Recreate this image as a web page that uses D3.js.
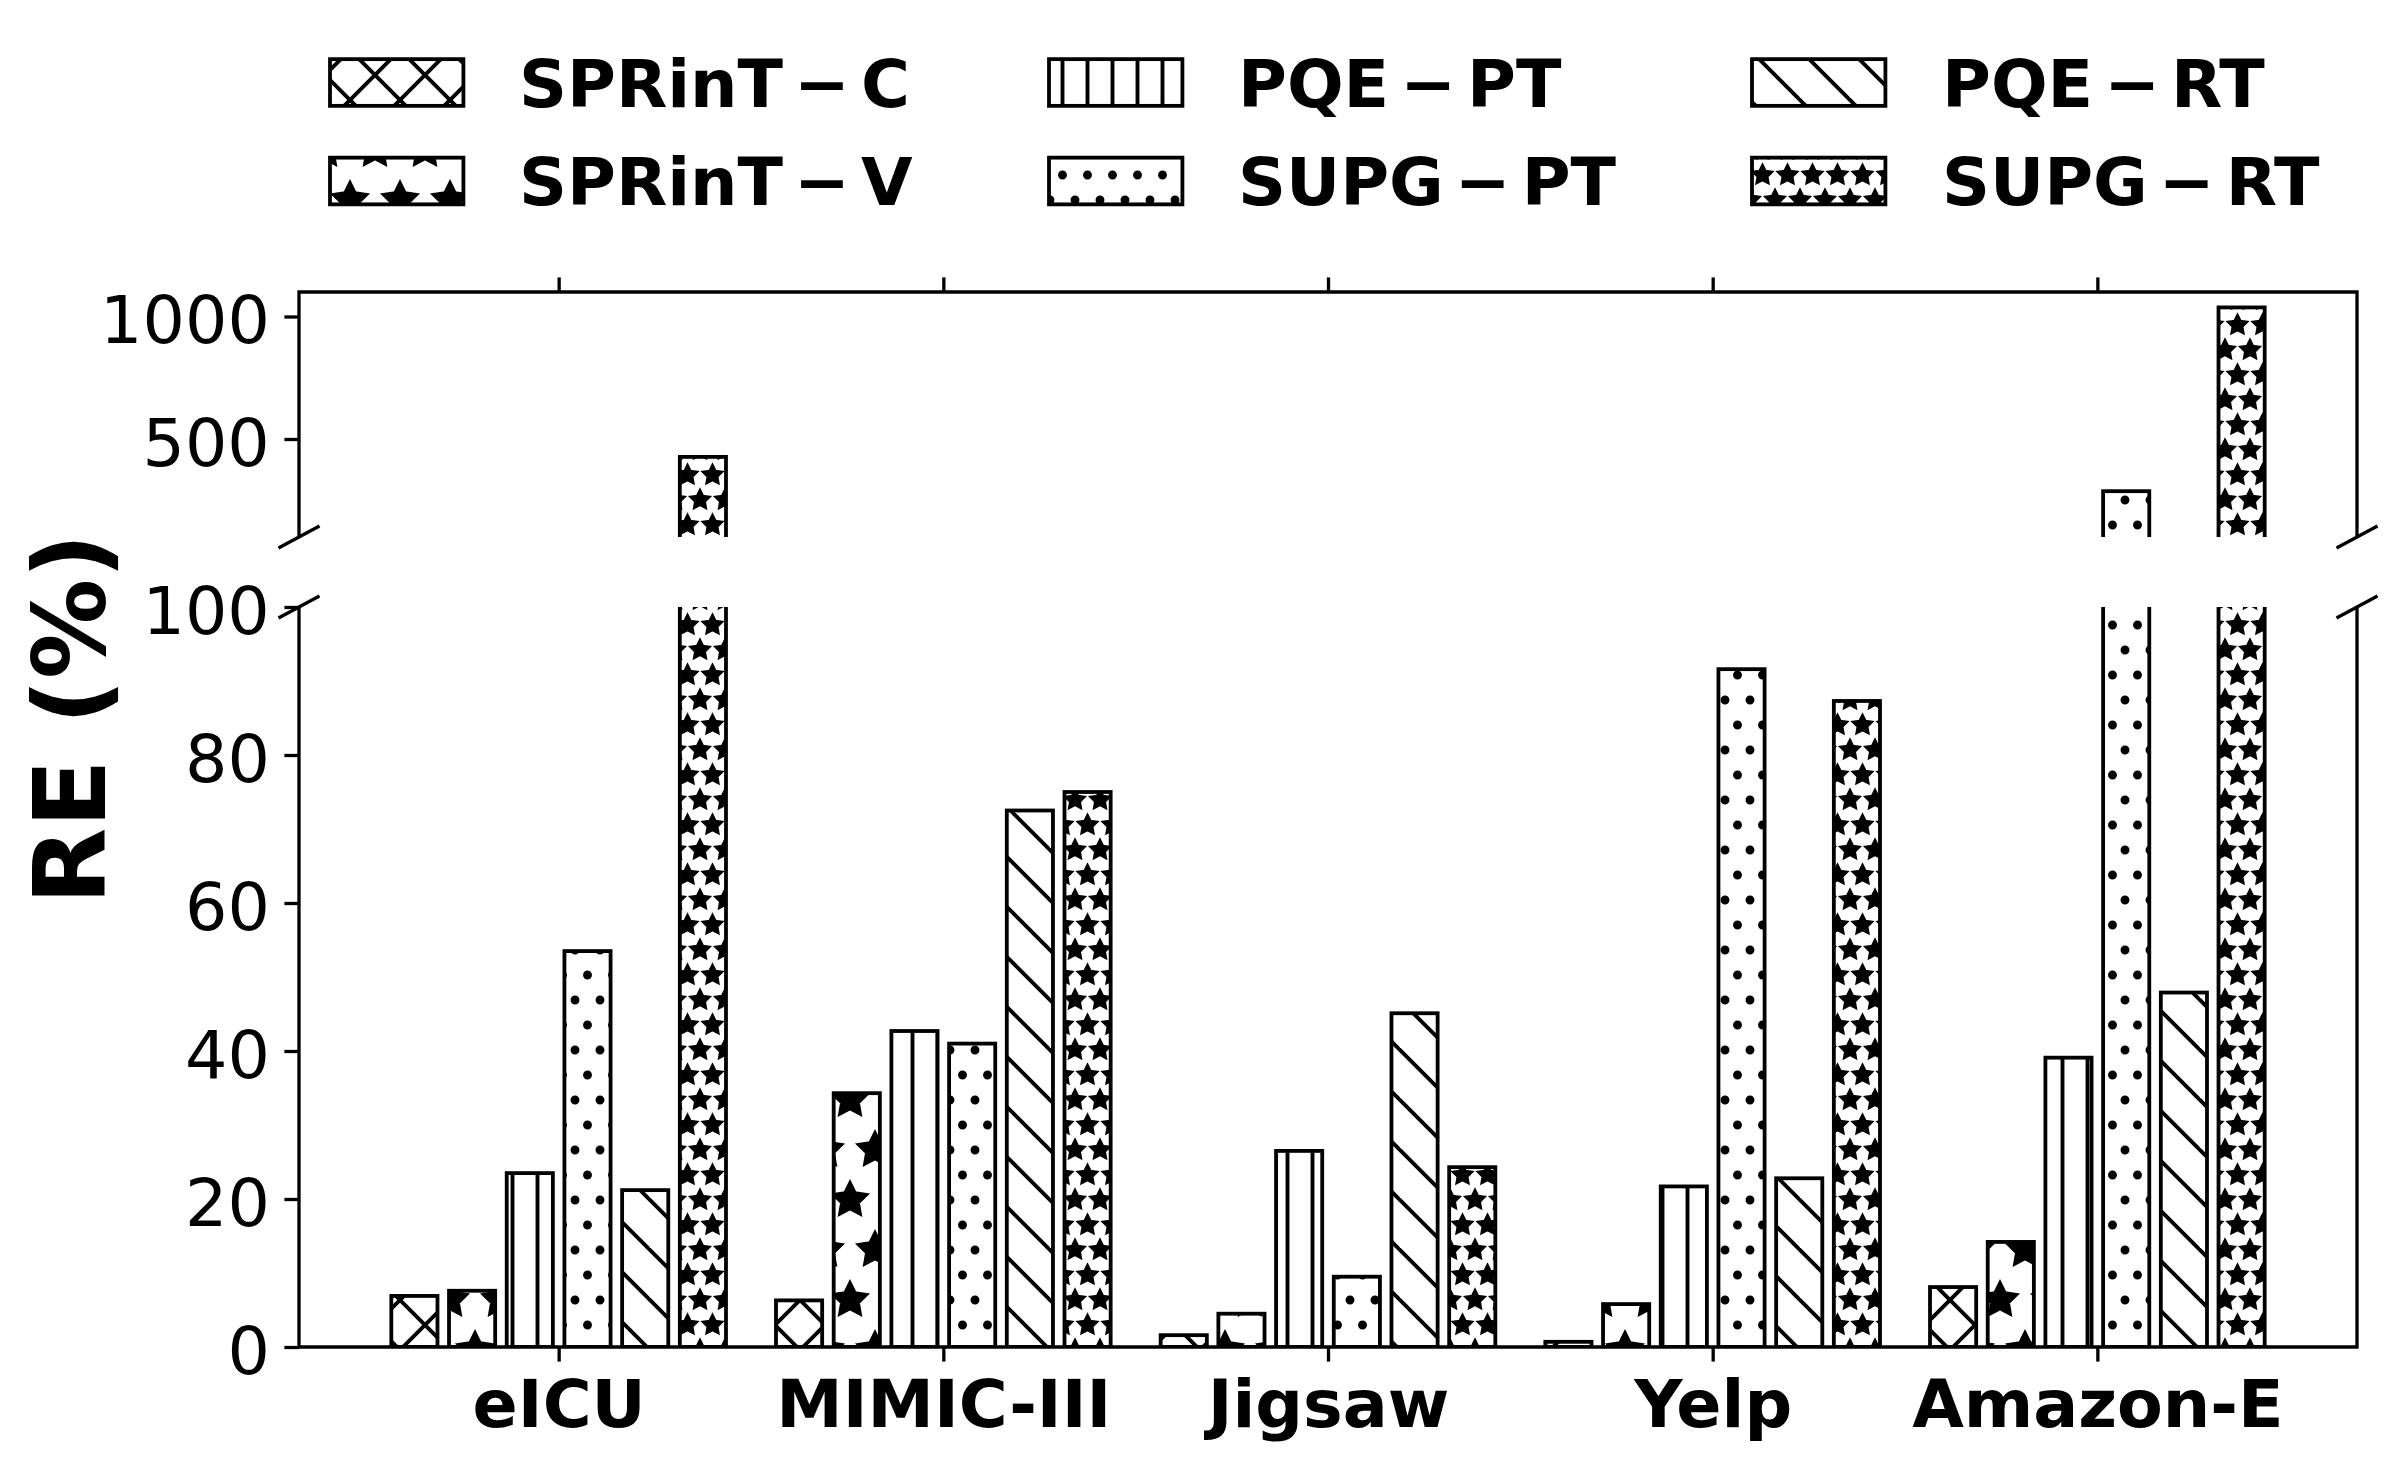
<!DOCTYPE html>
<html><head><meta charset="utf-8">
<script src="https://cdn.jsdelivr.net/npm/d3@7"></script>
<style>html,body{margin:0;padding:0;background:#fff;overflow:hidden}</style>
</head><body><div id="chart"></div>
<script>
// ---------------- data ----------------
const categories = ["eICU", "MIMIC-III", "Jigsaw", "Yelp", "Amazon-E"];
const seriesNames = ["SPRinT-C", "SPRinT-V", "PQE-PT", "SUPG-PT", "PQE-RT", "SUPG-RT"];
const sprintC = [6.9, 6.3, 1.6, 0.7, 8.1];
const sprintV = [7.6, 34.3, 4.5, 5.8, 14.2];
const pqePT   = [23.5, 42.7, 26.5, 21.7, 39.1];
const supgPT  = [53.5, 41.0, 9.5, 91.6, 287];
const pqeRT   = [21.2, 72.5, 45.1, 22.8, 47.9];
const supgRT  = [427, 75.0, 24.3, 87.3, 1037];
const lowerTicks = [0, 20, 40, 60, 80, 100];
const upperTicks = [500, 1000];
const seriesValues = [sprintC, sprintV, pqePT, supgPT, pqeRT, supgRT];

// ---------------- layout ----------------
const W = 2407, H = 1471;
const L = 299, R = 2357;
const upTop = 292, upBot = 537, loTop = 607, loBot = 1347;
const FONT = "'DejaVu Sans', sans-serif";
const FS = 66.7;
const SW = 3.3;     // spine / tick width
const HL = 3.9;     // hatch line width
const EW = 3.8;     // bar edge width
const TICK = 14.6;

const svg = d3.select("#chart").append("svg")
  .attr("width", W).attr("height", H).attr("viewBox", `0 0 ${W} ${H}`);
svg.append("rect").attr("width", W).attr("height", H).attr("fill", "#fff");

// ---------------- hatch patterns (anchored at canvas origin) ----------------
const defs = svg.append("defs");
function pat(id, w, h) {
  const p = defs.append("pattern").attr("id", id).attr("patternUnits", "userSpaceOnUse")
    .attr("x", 0).attr("y", 0).attr("width", w).attr("height", h);
  p.append("rect").attr("width", w).attr("height", h).attr("fill", "#fff");
  return p;
}
function lines(p, segs) {
  segs.forEach(s => p.append("line").attr("x1", s[0]).attr("y1", s[1]).attr("x2", s[2]).attr("y2", s[3])
    .attr("stroke", "#000").attr("stroke-width", HL));
}
function starPath(cx, cy, r) {
  const pts = [];
  for (let k = 0; k < 10; k++) {
    const a = -Math.PI / 2 + k * Math.PI / 5;
    const rr = k % 2 === 0 ? r : r / 2;
    pts.push([cx + rr * Math.cos(a), cy + rr * Math.sin(a)]);
  }
  return "M" + pts.map(p => p.join(",")).join("L") + "Z";
}
// 'xx'
lines(pat("h0", 50, 50), [[-10,-10,60,60],[40,-10,60,10],[-10,40,10,60],[-10,60,60,-10],[-10,10,10,-10],[40,60,60,40]]);
// '*'
{ const p = pat("h1", 50, 100);
  [[0,0],[50,0],[0,100],[50,100],[25,50]].forEach(c => p.append("path").attr("d", starPath(c[0], c[1], 50/3))
    .attr("fill", "#000").attr("stroke", "#000").attr("stroke-width", HL).attr("stroke-linejoin", "miter")); }
// '||'
lines(pat("h2", 25, 25), [[12.5,-2,12.5,27]]);
// '..'
{ const p = pat("h3", 25, 50);
  [[0,0],[25,0],[0,50],[25,50],[12.5,25]].forEach(c => p.append("circle").attr("cx", c[0]).attr("cy", c[1]).attr("r", 2.5)
    .attr("fill", "#000").attr("stroke", "#000").attr("stroke-width", HL)); }
// '\\'
lines(pat("h4", 50, 50), [[-10,-10,60,60],[40,-10,60,10],[-10,40,10,60]]);
// '**'
{ const p = pat("h5", 25, 50);
  [[0,0],[25,0],[0,50],[25,50],[12.5,25]].forEach(c => p.append("path").attr("d", starPath(c[0], c[1], 25/3))
    .attr("fill", "#000").attr("stroke", "#000").attr("stroke-width", HL).attr("stroke-linejoin", "miter")); }

// ---------------- scales ----------------
const x = d3.scaleLinear().domain([-0.675, 4.675]).range([L, R]);
const yLow = d3.scaleLinear().domain([0, 100]).range([loBot, loTop]);
const yUp = d3.scaleLinear().domain([100, 1100]).range([upBot, upTop]);
const step = 0.15, bwData = 0.12;
const bw = x(bwData) - x(0);

defs.append("clipPath").attr("id", "clipLow").append("rect")
  .attr("x", L).attr("y", loTop).attr("width", R - L).attr("height", loBot - loTop);
defs.append("clipPath").attr("id", "clipUp").append("rect")
  .attr("x", L).attr("y", upTop).attr("width", R - L).attr("height", upBot - upTop);

const barData = [];
seriesValues.forEach((vals, j) => vals.forEach((v, i) => barData.push({ i, j, v })));

const gLow = svg.append("g").attr("clip-path", "url(#clipLow)");
gLow.selectAll("rect").data(barData).join("rect")
  .attr("x", d => x(d.i + (d.j - 2.5) * step) - bw / 2)
  .attr("y", d => yLow(d.v))
  .attr("width", bw)
  .attr("height", d => yLow(0) - yLow(d.v))
  .attr("fill", d => `url(#h${d.j})`)
  .attr("stroke", "#000").attr("stroke-width", EW);

const gUp = svg.append("g").attr("clip-path", "url(#clipUp)");
gUp.selectAll("rect").data(barData.filter(d => d.v > 100)).join("rect")
  .attr("x", d => x(d.i + (d.j - 2.5) * step) - bw / 2)
  .attr("y", d => yUp(d.v))
  .attr("width", bw)
  .attr("height", d => yUp(0) - yUp(d.v))
  .attr("fill", d => `url(#h${d.j})`)
  .attr("stroke", "#000").attr("stroke-width", EW);

// ---------------- axes ----------------
function styleAxis(g, bold) {
  g.select(".domain").remove();
  g.selectAll("line").attr("stroke", "#000").attr("stroke-width", SW);
  g.selectAll("text").attr("font-family", FONT).attr("font-size", FS).attr("fill", "#000")
    .attr("font-weight", bold ? "bold" : "normal");
}
const axLowL = svg.append("g").attr("transform", `translate(${L},0)`)
  .call(d3.axisLeft(yLow).tickValues(lowerTicks).tickSize(TICK).tickPadding(TICK).tickFormat(d3.format("d")));
styleAxis(axLowL, false);
axLowL.selectAll("text").attr("dy", "0.39em");

const axUpL = svg.append("g").attr("transform", `translate(${L},0)`)
  .call(d3.axisLeft(yUp).tickValues(upperTicks).tickSize(TICK).tickPadding(TICK).tickFormat(d3.format("d")));
styleAxis(axUpL, false);
axUpL.selectAll("text").attr("dy", "0.39em");

const axB = svg.append("g").attr("transform", `translate(0,${loBot})`)
  .call(d3.axisBottom(x).tickValues(d3.range(categories.length)).tickSize(TICK).tickPadding(18)
    .tickFormat(i => categories[i]));
styleAxis(axB, true);

const axT = svg.append("g").attr("transform", `translate(0,${upTop})`)
  .call(d3.axisTop(x).tickValues(d3.range(categories.length)).tickSize(TICK).tickFormat(""));
styleAxis(axT, false);

// spines
svg.append("path").attr("d", `M${L},${upBot}V${upTop}H${R}V${upBot}`)
  .attr("fill", "none").attr("stroke", "#000").attr("stroke-width", SW).attr("stroke-linejoin", "miter");
svg.append("path").attr("d", `M${L},${loTop}V${loBot}H${R}V${loTop}`)
  .attr("fill", "none").attr("stroke", "#000").attr("stroke-width", SW).attr("stroke-linejoin", "miter");

// break marks
[[L, upBot], [R, upBot], [L, loTop], [R, loTop]].forEach(c => {
  svg.append("line").attr("x1", c[0] - 20.5).attr("y1", c[1] + 11).attr("x2", c[0] + 20.5).attr("y2", c[1] - 11)
    .attr("stroke", "#000").attr("stroke-width", SW);
});

// y label
svg.append("text").attr("transform", "translate(105,719) rotate(-90)")
  .attr("text-anchor", "middle").attr("font-family", FONT).attr("font-size", 100)
  .attr("font-weight", "bold").attr("fill", "#000").text("RE (%)");

// ---------------- legend ----------------
const legCols = [{ px: 330, tx: 519 }, { px: 1049, tx: 1238 }, { px: 1752, tx: 1942 }];
const legRows = [82.5, 181];
const patchW = 133.4, patchH = 46.7;
seriesNames.forEach((name, k) => {
  const col = legCols[Math.floor(k / 2)], cy = legRows[k % 2];
  svg.append("rect").attr("x", col.px).attr("y", cy - patchH / 2).attr("width", patchW).attr("height", patchH)
    .attr("fill", `url(#h${k})`).attr("stroke", "#000").attr("stroke-width", EW);
  const parts = name.split("-");
  const t = svg.append("text").attr("x", col.tx).attr("y", cy + 24.3)
    .attr("font-family", FONT).attr("font-size", FS).attr("font-weight", "bold").attr("fill", "#000");
  t.append("tspan").text(parts[0]);
  t.append("tspan").attr("dx", 11).text("\u2212");
  t.append("tspan").attr("dx", 11).text(parts[1]);
});
</script></body></html>
